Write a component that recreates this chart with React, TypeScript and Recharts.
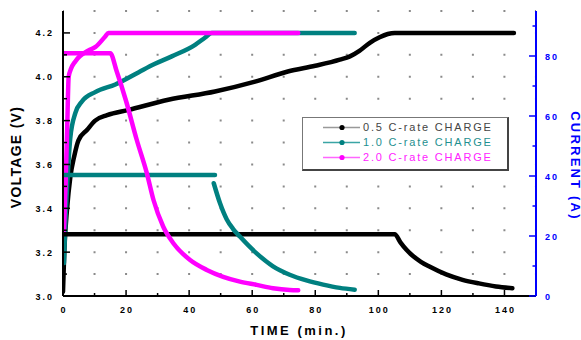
import React from 'react';
import { ComposedChart, Line, XAxis, YAxis, CartesianGrid, Legend } from 'recharts';

// ---- tick arrays ----
const timeTicks = [0, 10, 20, 30, 40, 50, 60, 70, 80, 90, 100, 110, 120, 130, 140];
const timeLabels = [0, 20, 40, 60, 80, 100, 120, 140];
const voltTicks = [30, 31, 32, 33, 34, 35, 36, 37, 38, 39, 40, 41, 42].map((n) => n / 10);
const voltLabels = [3.0, 3.2, 3.4, 3.6, 3.8, 4.0, 4.2];
const currentTicks = [0, 10, 20, 30, 40, 50, 60, 70, 80, 90];
const currentLabels = [0, 20, 40, 60, 80];

// ---- series meta ----
const seriesNames = ['0.5 C-rate CHARGE', '1.0 C-rate CHARGE', '2.0 C-rate CHARGE'];
const seriesColors = ['#000000', '#008080', '#ff00ff'];
const legendTextColors = ['#444444', '#1f9090', '#ff22ff'];
const legendLineColors = ['#999999', '#3aa5a5', '#ff66ff'];

// ---- data: [time (min), voltage (V)] ----
const voltage05: [number, number][] = [
  [0, 3.02], [0.4, 3.2], [1.3, 3.4], [2.3, 3.54], [3.6, 3.64], [4.9, 3.71], [7.6, 3.757],
  [10.2, 3.8], [14, 3.825], [20.8, 3.849], [33.4, 3.895], [48.2, 3.933], [60.9, 3.978],
  [71.3, 4.024], [80, 4.05], [87.8, 4.078], [91, 4.093], [94, 4.118], [97.3, 4.155],
  [100.4, 4.18], [103, 4.195], [105.2, 4.2], [143, 4.2],
];
const voltage10: [number, number][] = [
  [0.3, 3.15], [0.8, 3.35], [1.5, 3.55], [2.3, 3.72], [3.9, 3.834], [6.0, 3.887], [10.2, 3.93],
  [16.6, 3.965], [23.9, 4.02], [29, 4.058], [34.5, 4.093], [41.9, 4.146], [45, 4.178],
  [47.2, 4.2], [92.5, 4.2],
];
const voltage20: [number, number][] = [
  [0.3, 3.3], [0.8, 3.5], [1.3, 3.75], [1.8, 4.0], [2.5, 4.035], [3.9, 4.07], [8.1, 4.12],
  [10.2, 4.135], [13.4, 4.184], [14.4, 4.2], [74.6, 4.2],
];

// ---- data: [time (min), current (A)] ----
const current05: [number, number | null][] = [
  [0, 20.6], [105.2, 20.6], [107, 17.9], [109, 15.3], [110.9, 13.4], [113.5, 11.4],
  [116.2, 9.8], [121.5, 7.2], [126.7, 5.4], [131.9, 4.2], [137.3, 3.2], [142.5, 2.6],
];
const current10: [number, number | null][] = [
  [0, 40.3], [48.2, 40.3], [48.1, null], [47.8, 37.6], [49.8, 30.9], [51.9, 25.6],
  [53.9, 22.4], [56.1, 19.8], [61.4, 14.2], [66.6, 9.9], [71.9, 7.1], [77.2, 5.2],
  [82.5, 3.8], [87.8, 2.7], [92.5, 2.1],
];
const current20: [number, number | null][] = [
  [0, 80.9], [15, 80.9], [17, 75], [20, 65], [23.4, 52], [26.6, 40.9], [28.7, 32],
  [31.8, 23.1], [35, 17.6], [40.3, 12], [45.6, 8.7], [50.8, 6.4], [56.1, 4.8], [61.4, 3.7],
  [66.6, 2.6], [71.9, 2.0], [74.6, 1.9],
];

const toV = (arr: [number, number][]) => arr.map(([t, v]) => ({ t, v }));
const toI = (arr: [number, number | null][]) => arr.map(([t, i]) => ({ t, i }));

const voltSeries = [voltage05, voltage10, voltage20];
const currentSeries = [current05, current10, current20];

const tickFont = {
  fontSize: 9,
  fontWeight: 'bold' as const,
  fontFamily: 'Liberation Sans, Arial, sans-serif',
  letterSpacing: 2,
};

const isIn = (list: number[], v: number) => list.some((l) => Math.abs(l - v) < 1e-6);

const LeftTick = (props: any) => {
  const { x, y, payload } = props;
  const v = payload.value as number;
  const major = isIn(voltLabels, v);
  return (
    <g>
      <line x1={x} x2={x + (major ? 7 : 4)} y1={y} y2={y} stroke="#000" strokeWidth={1.5} />
      {major && (
        <text x={x - 9} y={y + 3.5} textAnchor="end" fill="#000" {...tickFont}>
          {v.toFixed(1)}
        </text>
      )}
    </g>
  );
};

const RightTick = (props: any) => {
  const { x, y, payload } = props;
  const v = payload.value as number;
  const major = isIn(currentLabels, v);
  return (
    <g>
      <line x1={x} x2={x - (major ? 7 : 3.5)} y1={y} y2={y} stroke="#0000ff" strokeWidth={1.5} />
      {major && (
        <text x={x + 9} y={y + 3.5} textAnchor="start" fill="#0000ff" {...tickFont}>
          {String(v)}
        </text>
      )}
    </g>
  );
};

const BottomTick = (props: any) => {
  const { x, y, payload } = props;
  const v = payload.value as number;
  const major = isIn(timeLabels, v);
  return (
    <g>
      <line x1={x} x2={x} y1={y} y2={y - (major ? 6 : 3)} stroke="#000" strokeWidth={1.5} />
      {major && (
        <text x={x + 1} y={y + 17} textAnchor="middle" fill="#000" {...tickFont}>
          {String(v)}
        </text>
      )}
    </g>
  );
};

const TopTick = (props: any) => {
  const { x, y } = props;
  return <line x1={x} x2={x} y1={y} y2={y + 4} stroke="#000" strokeWidth={1.5} />;
};

const VoltTitle = () => (
  <text
    x={16}
    y={157}
    transform="rotate(-90, 16, 157)"
    textAnchor="middle"
    dominantBaseline="central"
    fontSize={14}
    fontWeight="bold"
    fontFamily="Liberation Sans, Arial, sans-serif"
    letterSpacing={1.3}
    fill="#000"
  >
    VOLTAGE (V)
  </text>
);

const CurrentTitle = () => (
  <text
    x={575}
    y={166}
    transform="rotate(90, 575, 166)"
    textAnchor="middle"
    dominantBaseline="central"
    fontSize={13}
    fontWeight="bold"
    fontFamily="Liberation Sans, Arial, sans-serif"
    letterSpacing={2.2}
    fill="#0000ff"
  >
    CURRENT (A)
  </text>
);

const TimeTitle = () => (
  <text
    x={299}
    y={330}
    textAnchor="middle"
    dominantBaseline="central"
    fontSize={13}
    fontWeight="bold"
    fontFamily="Liberation Sans, Arial, sans-serif"
    letterSpacing={2.5}
    fill="#000"
  >
    TIME (min.)
  </text>
);

const LegendBox = () => (
  <div
    style={{
      boxSizing: 'border-box',
      width: 207,
      height: 54,
      background: '#fff',
      border: '1px solid #777',
      borderRight: '2px solid #444',
      borderBottom: '2px solid #444',
      paddingTop: 2,
      fontFamily: 'Liberation Sans, Arial, sans-serif',
    }}
  >
    {seriesNames.map((name, k) => (
      <div key={name} style={{ display: 'flex', alignItems: 'center', height: 15 }}>
        <svg width={58} height={15} style={{ display: 'block' }}>
          <line x1={20} x2={57} y1={7.5} y2={7.5} stroke={legendLineColors[k]} strokeWidth={1.3} />
          <circle cx={39} cy={7.5} r={2.6} fill={seriesColors[k]} />
        </svg>
        <span
          style={{
            marginLeft: 2,
            fontSize: 11,
            letterSpacing: 1.8,
            color: legendTextColors[k],
            whiteSpace: 'nowrap',
            lineHeight: '15px',
          }}
        >
          {name}
        </span>
      </div>
    ))}
  </div>
);

export default function App() {
  return (
    <div style={{ position: 'absolute', left: 0, top: 0, width: 581, height: 340, background: '#fff' }}>
      <ComposedChart width={581} height={340} margin={{ top: 11, right: 0, bottom: 0, left: 0 }}>
        <CartesianGrid
          xAxisId="b"
          yAxisId="v"
          vertical={false}
          horizontal={true}
          stroke="#8a8a8a"
          strokeWidth={2}
          strokeDasharray="2 29.53"
          strokeDashoffset={1}
        />
        <XAxis
          xAxisId="b"
          dataKey="t"
          type="number"
          domain={[0, 150]}
          allowDataOverflow
          ticks={timeTicks}
          interval={0}
          height={44}
          tickSize={0}
          tickMargin={0}
          tickLine={false}
          axisLine={{ stroke: '#000', strokeWidth: 2 }}
          tick={<BottomTick />}
          label={<TimeTitle />}
        />
        <XAxis
          xAxisId="top"
          orientation="top"
          dataKey="t"
          type="number"
          domain={[0, 150]}
          allowDataOverflow
          ticks={timeTicks}
          interval={0}
          height={0}
          tickSize={0}
          tickMargin={0}
          tickLine={false}
          axisLine={{ stroke: '#000', strokeWidth: 2 }}
          tick={<TopTick />}
        />
        <YAxis
          yAxisId="v"
          orientation="left"
          type="number"
          domain={[3.0, 4.3]}
          allowDataOverflow
          ticks={voltTicks}
          interval={0}
          width={63}
          tickSize={0}
          tickMargin={0}
          tickLine={false}
          axisLine={{ stroke: '#000', strokeWidth: 2 }}
          tick={<LeftTick />}
          label={<VoltTitle />}
        />
        <YAxis
          yAxisId="i"
          orientation="right"
          type="number"
          domain={[0, 95]}
          allowDataOverflow
          ticks={currentTicks}
          interval={0}
          width={45}
          tickSize={0}
          tickMargin={0}
          tickLine={false}
          axisLine={{ stroke: '#0000ff', strokeWidth: 2 }}
          tick={<RightTick />}
          label={<CurrentTitle />}
        />
        {voltSeries.map((s, k) => (
          <Line
            key={'v' + k}
            xAxisId="b"
            yAxisId="v"
            data={toV(s)}
            dataKey="v"
            name={seriesNames[k]}
            type="monotone"
            stroke={seriesColors[k]}
            strokeWidth={4.5}
            strokeLinecap="round"
            strokeLinejoin="round"
            dot={false}
            activeDot={false}
            isAnimationActive={false}
            legendType="none"
          />
        ))}
        {currentSeries.map((s, k) => (
          <Line
            key={'i' + k}
            xAxisId="b"
            yAxisId="i"
            data={toI(s)}
            dataKey="i"
            name={seriesNames[k] + ' current'}
            type="monotone"
            stroke={seriesColors[k]}
            strokeWidth={4.5}
            strokeLinecap="round"
            strokeLinejoin="round"
            dot={false}
            activeDot={false}
            connectNulls={false}
            isAnimationActive={false}
            legendType="none"
          />
        ))}
        <Legend
          layout="horizontal"
          verticalAlign="middle"
          align="center"
          wrapperStyle={{ left: 302, top: 117, width: 207, height: 54 }}
          content={() => <LegendBox />}
        />
      </ComposedChart>
    </div>
  );
}
